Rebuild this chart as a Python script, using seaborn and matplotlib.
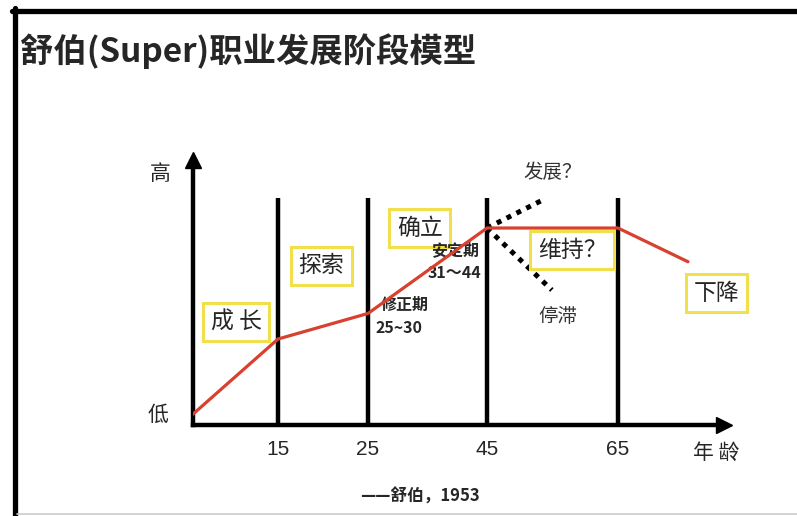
import numpy as np
import pandas as pd
import matplotlib
matplotlib.use("Agg")
import matplotlib.pyplot as plt
import seaborn as sns
from matplotlib.lines import Line2D

# values (level: 0 = 低, ~100 = 高)
ages = [0, 15, 25, 45, 65, 75]
levels = [4, 31.6, 41, 72.4, 72.4, 60]
stage_ages = [15, 25, 45, 65]
stage_labels = ["15", "25", "45", "65"]
stage_top = 83.5
grow_ages = [45, 53.5]
grow_levels = [72.4, 82.7]
stall_ages = [45, 54.9]
stall_levels = [72.4, 49.6]

# the drawing's age axis is not linear: age -> distance from origin
scale_ages = [0, 15, 25, 45, 65, 75, 80]
scale_pos = [0, 85, 175, 294, 425, 495, 531]

sns.set_style("white")
plt.rcParams["font.family"] = ["Noto Sans CJK SC", "DejaVu Sans"]

W, H = 797, 516
fig = plt.figure(figsize=(W / 100, H / 100), dpi=100)
ax = fig.add_axes([193 / W, 1 - 425 / H, 531 / W, 265 / H])

df = pd.DataFrame({"age": ages, "level": levels})
sns.lineplot(data=df, x="age", y="level", color="#d8402f", lw=2.3, ax=ax, zorder=4)

ax.vlines(stage_ages, 0, stage_top, color="black", lw=3.2, zorder=2)
ax.plot(grow_ages, grow_levels, color="black", lw=3.6, ls=(0, (1, 1.2)), zorder=3)
ax.plot(stall_ages, stall_levels, color="black", lw=3.6, ls=(0, (1, 1.2)), zorder=3)

ax.set_xscale("function", functions=(lambda a: np.interp(a, scale_ages, scale_pos),
                                      lambda p: np.interp(p, scale_pos, scale_ages)))
ax.set_xlim(0, 80)
ax.set_ylim(0, 97.4)

for s in ["top", "right"]:
    ax.spines[s].set_visible(False)
for s in ["left", "bottom"]:
    ax.spines[s].set_linewidth(3.2)
    ax.spines[s].set_color("black")
ax.plot(1, 0, ">k", ms=11, transform=ax.transAxes, clip_on=False)
ax.plot(0, 1, "^k", ms=11, transform=ax.transAxes, clip_on=False)

ax.set_xticks(stage_ages, stage_labels, fontsize=15, family=["Liberation Sans", "DejaVu Sans"])
ax.set_yticks([])
ax.tick_params(axis="x", length=0, pad=11)
ax.set_xlabel("")
ax.set_ylabel("")

box = dict(boxstyle="square,pad=0.33", fc="white", ec="#f2df4c", lw=2.2)
for txt, x, y in [("成 长", 7.6, 37.9), ("探索", 19.8, 58.5), ("确立", 33.7, 72.4),
                  ("维持？", 58, 64.3), ("下降", 79, 48.5)]:
    ax.text(x, y, txt, fontsize=16.5, ha="center", va="center", bbox=box, zorder=3)

for txt, x, y in [("安定期", 39.6, 64.3), ("31～44", 39.6, 55.9),
                  ("修正期", 31.2, 44.1), ("25~30", 30.2, 35.7)]:
    ax.text(x, y, txt, fontsize=11.5, fontweight="bold", ha="center", va="center", zorder=3)

ax.text(55.1, 92.6, "发展？", fontsize=14, color="#333333", ha="center", va="center")
ax.text(55.8, 39.7, "停滞", fontsize=14, color="#333333", ha="center", va="center")
ax.text(-0.062, 0.947, "高", fontsize=15, ha="center", va="center", transform=ax.transAxes)
ax.text(-0.066, 0.038, "低", fontsize=15, ha="center", va="center", transform=ax.transAxes)
ax.text(0.985, -0.103, "年 龄", fontsize=15, ha="center", va="center", transform=ax.transAxes)

fig.text(20 / W, 1 - 51 / H, "舒伯(Super)职业发展阶段模型", fontsize=24,
         fontweight="bold", ha="left", va="center")
fig.text(420 / W, 1 - 497 / H, "——舒伯，1953", fontsize=12,
         fontweight="bold", ha="center", va="center")

# picture frame
fig.add_artist(Line2D([12 / W, 1], [1 - 10.5 / H] * 2, color="black", lw=3.8))
fig.add_artist(Line2D([14.5 / W] * 2, [0, 1 - 8 / H], color="black", lw=3.8))
fig.add_artist(Line2D([17 / W, 1], [1 - 514 / H] * 2, color="#cccccc", lw=1.2))

fig.savefig("out.png", dpi=100)
